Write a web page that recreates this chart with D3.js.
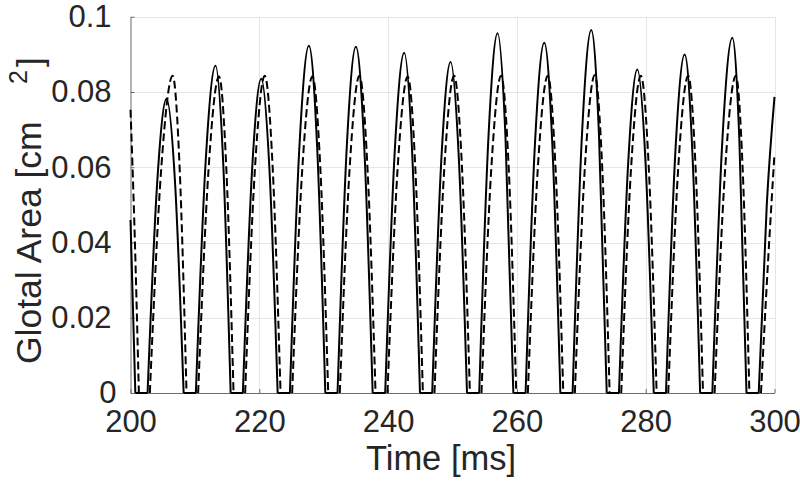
<!DOCTYPE html>
<html>
<head>
<meta charset="UTF-8">
<title>Glotal Area</title>
<script src="https://d3js.org/d3.v7.min.js"></script>
<style>
  body { margin: 0; background: #fff; }
  text { font-family: "Liberation Sans", Arial, Helvetica, sans-serif; fill: #262626; }
</style>
</head>
<body>
<div id="chart"></div>
<script>
const xTicks = [200, 220, 240, 260, 280, 300];
const yTicks = [0, 0.02, 0.04, 0.06, 0.08, 0.1];
const yTickLabels = ["0", "0.02", "0.04", "0.06", "0.08", "0.1"];

// solid trace: time [ms], area [cm^2]
const solidTime = [
  200, 200.75,
  202.65, 204.13, 205.6, 206.93, 208.25,
  210.15, 211.68, 213.2, 214.38, 215.55,
  217.45, 218.88, 220.3, 221.58, 222.85,
  224.75, 226.23, 227.7, 228.98, 230.25,
  232.15, 233.58, 235.0, 236.3, 237.6,
  239.55, 241.03, 242.5, 243.73, 244.95,
  246.85, 248.28, 249.7, 250.98, 252.25,
  254.15, 255.58, 257.0, 258.23, 259.45,
  261.35, 262.8, 264.25, 265.5, 266.75,
  268.65, 270.1, 271.55, 272.75, 273.95,
  275.85, 277.28, 278.7, 279.98, 281.25,
  283.15, 284.6, 286.05, 287.25, 288.45,
  290.35, 291.9, 293.45, 294.55, 295.65,
  297.55, 298.8, 300
];
const solidArea = [
  0.046, 0,
  0, 0.0555, 0.0782, 0.0555, 0,
  0, 0.0618, 0.0870, 0.0618, 0,
  0, 0.0593, 0.0835, 0.0593, 0,
  0, 0.0655, 0.0923, 0.0655, 0,
  0, 0.0653, 0.0920, 0.0653, 0,
  0, 0.0642, 0.0904, 0.0642, 0,
  0, 0.0625, 0.0880, 0.0625, 0,
  0, 0.0679, 0.0956, 0.0679, 0,
  0, 0.0661, 0.0931, 0.0661, 0,
  0, 0.0685, 0.0965, 0.0685, 0,
  0, 0.0611, 0.0860, 0.0611, 0,
  0, 0.0639, 0.0900, 0.0639, 0,
  0, 0.0670, 0.0944, 0.0670, 0,
  0, 0.050, 0.0787
];

// dashed trace
const dashedTime = [
  200, 200.6, 201.3,
  203.0, 204.78, 206.55, 207.63, 208.7,
  210.5, 212.13, 213.75, 214.88, 216.0,
  217.8, 219.33, 220.85, 222.08, 223.3,
  225.1, 226.68, 228.25, 229.48, 230.7,
  232.5, 234.03, 235.55, 236.8, 238.05,
  239.9, 241.48, 243.05, 244.23, 245.4,
  247.2, 248.73, 250.25, 251.48, 252.7,
  254.5, 256.03, 257.55, 258.73, 259.9,
  261.7, 263.25, 264.8, 266.0, 267.2,
  269.0, 270.55, 272.1, 273.25, 274.4,
  276.2, 277.73, 279.25, 280.48, 281.7,
  283.5, 285.05, 286.6, 287.75, 288.9,
  290.7, 292.35, 294.0, 295.05, 296.1,
  297.9, 299.0, 300
];
const dashedArea = [
  0.0753, 0.045, 0,
  0, 0.0598, 0.0843, 0.0598, 0,
  0, 0.0597, 0.0841, 0.0597, 0,
  0, 0.0598, 0.0843, 0.0598, 0,
  0, 0.0597, 0.0841, 0.0597, 0,
  0, 0.0598, 0.0843, 0.0598, 0,
  0, 0.0597, 0.0841, 0.0597, 0,
  0, 0.0598, 0.0843, 0.0598, 0,
  0, 0.0598, 0.0843, 0.0598, 0,
  0, 0.0598, 0.0843, 0.0598, 0,
  0, 0.0599, 0.0845, 0.0599, 0,
  0, 0.0598, 0.0843, 0.0598, 0,
  0, 0.0598, 0.0843, 0.0598, 0,
  0, 0.0598, 0.0843, 0.0598, 0,
  0, 0.035, 0.0636
];

const width = 800, height = 485;
const plotLeft = 130.5, plotRight = 774.5, plotTop = 16.75, plotBottom = 393;

const svg = d3.select("#chart").append("svg")
  .attr("width", width)
  .attr("height", height);

const x = d3.scaleLinear().domain([200, 300]).range([plotLeft, plotRight]);
const y = d3.scaleLinear().domain([0, 0.1]).range([plotBottom, plotTop]);

// grid
svg.append("g").selectAll("line").data(xTicks.slice(1)).join("line")
  .attr("x1", d => Math.round(x(d)) + 0.5).attr("x2", d => Math.round(x(d)) + 0.5)
  .attr("y1", plotTop).attr("y2", plotBottom)
  .attr("stroke", "#e6e6e6").attr("stroke-width", 1);
svg.append("g").selectAll("line").data(yTicks.slice(1)).join("line")
  .attr("x1", plotLeft).attr("x2", plotRight)
  .attr("y1", d => Math.round(y(d)) + 0.5).attr("y2", d => Math.round(y(d)) + 0.5)
  .attr("stroke", "#e6e6e6").attr("stroke-width", 1);

// axes
const xAxis = svg.append("g")
  .attr("transform", "translate(0," + plotBottom + ")")
  .call(d3.axisBottom(x).tickValues(xTicks).tickSizeInner(-4).tickSizeOuter(0).tickPadding(17));
const yAxis = svg.append("g")
  .attr("transform", "translate(" + plotLeft + ",0)")
  .call(d3.axisLeft(y).tickValues(yTicks).tickFormat((d, i) => yTickLabels[i])
    .tickSizeInner(-4).tickSizeOuter(0).tickPadding(19));

[xAxis, yAxis].forEach(g => {
  g.select(".domain").attr("stroke", "#6b6b6b");
  g.selectAll(".tick line").attr("stroke", "#6b6b6b");
  g.selectAll("text").attr("font-size", 31).attr("fill", "#262626");
  g.attr("font-family", null);
});
yAxis.selectAll(".tick text").filter(d => d === 0).attr("dx", 5);

// traces
function pieces(ts, as) {
  const pts = ts.map((t, i) => [t, as[i]]);
  const out = [];
  let cur = [pts[0]];
  for (let i = 1; i < pts.length; i++) {
    cur.push(pts[i]);
    if (pts[i][1] === 0 && i < pts.length - 1) {
      out.push(cur);
      cur = [pts[i]];
    }
  }
  out.push(cur);
  return out;
}

const line = d3.line()
  .x(d => x(d[0]))
  .y(d => y(d[1]))
  .curve(d3.curveMonotoneX);

svg.append("g").selectAll("path").data(pieces(solidTime, solidArea)).join("path")
  .attr("d", line)
  .attr("fill", "none")
  .attr("stroke", "#000")
  .attr("stroke-width", 2)
  .attr("stroke-linejoin", "round");

svg.append("g").selectAll("path").data(pieces(dashedTime, dashedArea)).join("path")
  .attr("d", line)
  .attr("fill", "none")
  .attr("stroke", "#000")
  .attr("stroke-width", 2)
  .attr("stroke-dasharray", "8,4");

// axis labels
svg.append("text")
  .attr("x", 441)
  .attr("y", 470)
  .attr("text-anchor", "middle")
  .attr("font-size", 34.5)
  .text("Time [ms]");

svg.append("text")
  .attr("transform", "translate(41,364) rotate(-90)")
  .attr("font-size", 35.5)
  .text("Glotal Area [cm");
svg.append("text")
  .attr("transform", "translate(27,84) rotate(-90)")
  .attr("font-size", 25)
  .text("2");
svg.append("text")
  .attr("transform", "translate(42,67) rotate(-90)")
  .attr("font-size", 35.5)
  .text("]");
</script>
</body>
</html>
